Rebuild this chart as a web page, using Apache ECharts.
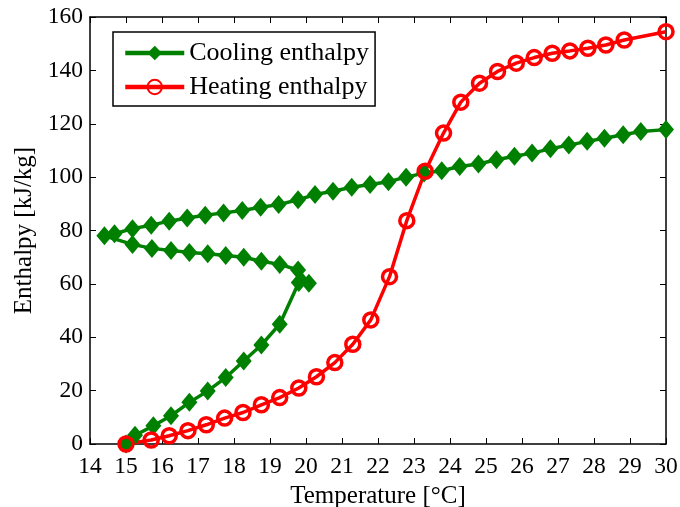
<!DOCTYPE html>
<html><head><meta charset="utf-8">
<script src="https://cdn.jsdelivr.net/npm/echarts@6/dist/echarts.min.js"></script>
<style>html,body{margin:0;padding:0;background:#fff}#c{width:680px;height:507px}</style>
</head><body><div id="c"></div>
<script>
const xTicks = [14,15,16,17,18,19,20,21,22,23,24,25,26,27,28,29,30];
const yTicks = [0,20,40,60,80,100,120,140,160];
const coolT = [15.0, 15.25, 15.76, 16.25, 16.76, 17.27, 17.77, 18.27, 18.76, 19.27, 19.8, 20.08, 19.78, 19.27, 18.76, 18.27, 17.77, 17.27, 16.76, 16.25, 15.72, 15.18, 14.4, 14.68, 15.18, 15.7, 16.2, 16.7, 17.2, 17.71, 18.23, 18.74, 19.24, 19.78, 20.25, 20.75, 21.27, 21.78, 22.29, 22.78, 23.28, 23.77, 24.27, 24.79, 25.29, 25.79, 26.28, 26.79, 27.3, 27.81, 28.29, 28.81, 29.3, 30.0];
const coolH = [0, 3.3, 6.8, 10.6, 15.6, 19.9, 24.9, 31.1, 37.1, 44.9, 60.5, 60.2, 65.2, 67.3, 68.5, 70.0, 70.6, 71.3, 71.8, 72.5, 73.3, 74.8, 78.0, 78.8, 80.7, 82.0, 83.5, 84.7, 85.7, 86.6, 87.5, 88.7, 89.7, 91.5, 93.5, 94.7, 96.2, 97.2, 98.3, 100.0, 101.5, 102.4, 104.0, 104.9, 106.5, 107.8, 109.0, 110.6, 112.0, 113.4, 114.6, 115.9, 117.1, 117.8];
const heatT = [15.0, 15.7, 16.2, 16.72, 17.23, 17.74, 18.25, 18.76, 19.27, 19.8, 20.29, 20.8, 21.3, 21.8, 22.32, 22.8, 23.31, 23.82, 24.3, 24.82, 25.32, 25.84, 26.34, 26.84, 27.33, 27.83, 28.33, 28.84, 30.0];
const heatH = [0, 1.5, 3.1, 5.0, 7.2, 9.7, 11.8, 14.7, 17.4, 21.0, 25.2, 30.5, 37.4, 46.5, 62.7, 83.7, 102.2, 116.5, 128.1, 135.2, 139.6, 142.7, 144.8, 146.4, 147.3, 148.3, 149.5, 151.4, 154.5];
const names = ['Cooling enthalpy', 'Heating enthalpy'];
const xTitle = 'Temperature [°C]';
const yTitle = 'Enthalpy [kJ/kg]';

const font = 'Liberation Serif';
const chart = echarts.init(document.getElementById('c'));
const axisBase = {
  type: 'value',
  axisLine: {show: true, onZero: false, lineStyle: {color: '#000', width: 1.5}},
  axisTick: {show: true, inside: true, length: 6, lineStyle: {color: '#000', width: 1}},
  splitLine: {show: false}
};
chart.setOption({
  animation: false,
  grid: {left: 90, right: 14, top: 17, bottom: 63, containLabel: false, outerBoundsMode: 'none'},
  legend: {
    orient: 'vertical', left: 113, top: 32,
    data: names.map(n => ({name: n})),
    borderColor: '#000', borderWidth: 1.5, backgroundColor: '#fff',
    padding: [8, 6, 6, 10], itemGap: 8, itemWidth: 59, itemHeight: 18,
    lineStyle: {width: 4.5},
    textStyle: {fontFamily: font, fontSize: 26, color: '#000'}
  },
  xAxis: [
    Object.assign({}, axisBase, {
      min: 14, max: 30, interval: 1, position: 'bottom',
      name: xTitle, nameLocation: 'middle', nameGap: 34,
      nameTextStyle: {fontFamily: font, fontSize: 25, color: '#000'},
      axisLabel: {fontFamily: font, fontSize: 23.5, color: '#000', margin: 11,
        formatter: v => xTicks.includes(v) ? String(v) : ''}
    }),
    Object.assign({}, axisBase, {
      min: 14, max: 30, interval: 1, position: 'top', axisLabel: {show: false}
    })
  ],
  yAxis: [
    Object.assign({}, axisBase, {
      min: 0, max: 160, interval: 20, position: 'left',
      name: yTitle, nameLocation: 'middle', nameGap: 53,
      nameTextStyle: {fontFamily: font, fontSize: 25, color: '#000'},
      axisLabel: {fontFamily: font, fontSize: 23.5, color: '#000', margin: 7,
        formatter: v => yTicks.includes(v) ? String(v) : ''}
    }),
    Object.assign({}, axisBase, {
      min: 0, max: 160, interval: 20, position: 'right', axisLabel: {show: false}
    })
  ],
  series: [
    {
      name: names[0], type: 'line', xAxisIndex: 0, yAxisIndex: 0,
      data: coolT.map((t, i) => [t, coolH[i]]),
      symbol: 'diamond', symbolSize: [16, 19],
      lineStyle: {color: '#008000', width: 3.5},
      itemStyle: {color: '#008000'}
    },
    {
      name: names[1], type: 'line', xAxisIndex: 0, yAxisIndex: 0,
      data: heatT.map((t, i) => [t, heatH[i]]),
      symbol: 'circle', symbolSize: 14,
      lineStyle: {color: '#ff0000', width: 3.5},
      itemStyle: {color: 'rgba(255,255,255,0)', borderColor: '#ff0000', borderWidth: 3.5}
    }
  ]
});
</script></body></html>
